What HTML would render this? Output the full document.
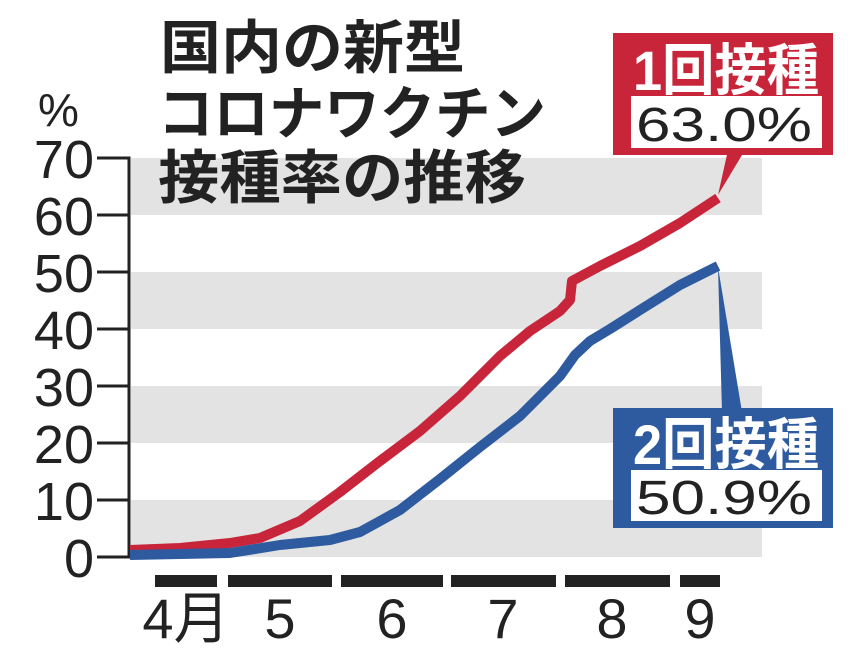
<!DOCTYPE html>
<html><head><meta charset="utf-8"><style>
body{margin:0;background:#fff;}
svg{display:block;}
text{font-family:"Liberation Sans","Noto Sans CJK JP",sans-serif;}
</style></head><body>
<svg width="850" height="661" viewBox="0 0 850 661">
<rect width="850" height="661" fill="#fff"/>
<g fill="#e3e3e3">
<rect x="131" y="158" width="631" height="57"/>
<rect x="131" y="272" width="631" height="57"/>
<rect x="131" y="386" width="631" height="57"/>
<rect x="131" y="500" width="631" height="57"/>
</g>
<g stroke="#222" stroke-width="3" fill="none">
<path d="M97 158H129V557H97"/>
<path d="M97 215H129M97 272H129M97 329H129M97 386H129M97 443H129M97 500H129"/>
</g>
<g font-size="54" fill="#222" text-anchor="end">
<text x="94" y="178">70</text><text x="94" y="235">60</text><text x="94" y="292">50</text>
<text x="94" y="349">40</text><text x="94" y="406">30</text><text x="94" y="463">20</text>
<text x="94" y="520">10</text><text x="94" y="577">0</text>
</g>
<text x="38" y="126" font-size="46" fill="#222">%</text>
<g font-size="58" font-weight="bold" fill="#222">
<text x="160" y="68" textLength="305" lengthAdjust="spacingAndGlyphs">国内の新型</text>
<text x="158" y="134" textLength="388" lengthAdjust="spacingAndGlyphs">コロナワクチン</text>
<text x="158" y="198" textLength="368" lengthAdjust="spacingAndGlyphs">接種率の推移</text>
</g>
<g fill="#222">
<rect x="155" y="575" width="62" height="12"/><rect x="228" y="575" width="104" height="12"/>
<rect x="341" y="575" width="102" height="12"/><rect x="451" y="575" width="105" height="12"/>
<rect x="565" y="575" width="105" height="12"/><rect x="680" y="575" width="40" height="12"/>
</g>
<g font-size="56" fill="#222" text-anchor="middle">
<text x="186" y="638">4月</text><text x="280" y="638">5</text><text x="392" y="638">6</text>
<text x="503" y="638">7</text><text x="612" y="638">8</text><text x="700" y="638">9</text>
</g>
<polyline fill="none" stroke="#c8243a" stroke-width="10" stroke-linejoin="round" points="130,550 180,548 230,543 260,538 300,521 340,492 380,461 420,431 460,396 500,356 530,331 560,311 570,300 572,281 600,266 640,246 680,223 718,198"/>
<polyline fill="none" stroke="#2e5aa0" stroke-width="10" stroke-linejoin="round" points="130,555 230,553 280,545 330,540 360,532 400,510 440,479 480,447 520,416 560,376 575,355 590,341 610,329 640,310 680,285 718,266"/>
<polygon points="718,195 728,150 745,150" fill="#c8243a"/>
<rect x="613" y="33" width="220" height="122" fill="#c8243a"/>
<rect x="631" y="96" width="191" height="52" fill="#fff"/>
<text x="633" y="90" font-size="56" font-weight="bold" fill="#fff" textLength="186" lengthAdjust="spacingAndGlyphs">1回接種</text>
<text x="636" y="141" font-size="48" fill="#222" textLength="176" lengthAdjust="spacingAndGlyphs">63.0%</text>
<polygon points="718,267 722,412 742,412" fill="#2e5aa0"/>
<rect x="613" y="408" width="220" height="120" fill="#2e5aa0"/>
<rect x="631" y="470" width="191" height="51" fill="#fff"/>
<text x="633" y="464" font-size="56" font-weight="bold" fill="#fff" textLength="186" lengthAdjust="spacingAndGlyphs">2回接種</text>
<text x="636" y="514" font-size="48" fill="#222" textLength="176" lengthAdjust="spacingAndGlyphs">50.9%</text>
</svg>
</body></html>
